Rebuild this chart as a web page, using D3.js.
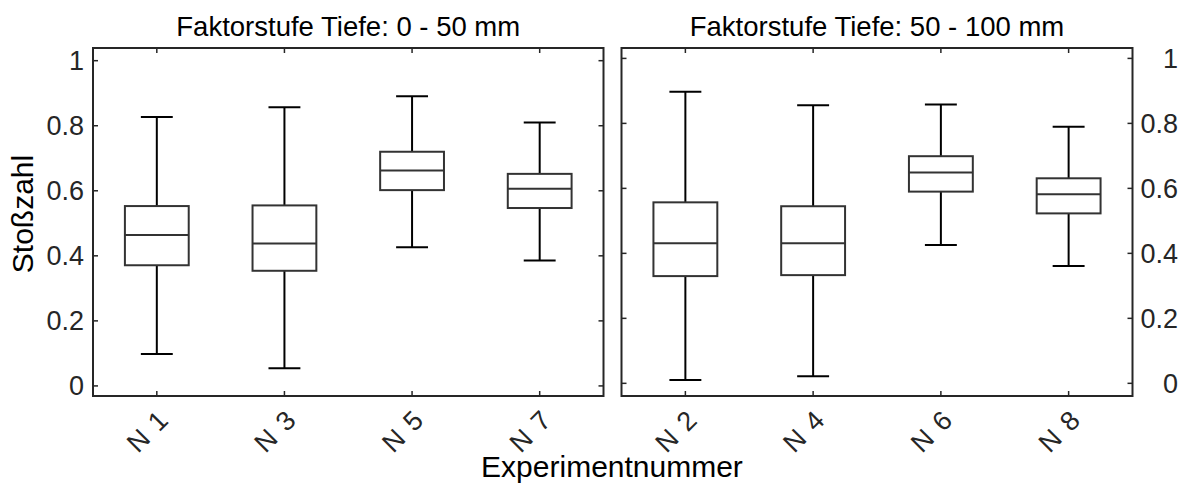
<!DOCTYPE html>
<html>
<head>
<meta charset="utf-8">
<script src="https://cdn.jsdelivr.net/npm/d3@7"></script>
<style>
  body { margin: 0; background: #fff; }
  svg { display: block; }
  text { font-family: "Liberation Sans", Arial, sans-serif; }
</style>
</head>
<body>
<svg id="chart" width="1184" height="483"></svg>
<script>
// boxplot statistics
var experiments = ["N 1", "N 3", "N 5", "N 7", "N 2", "N 4", "N 6", "N 8"]
var depthGroup  = [0, 0, 0, 0, 1, 1, 1, 1]
var whiskerLow  = [0.098, 0.054, 0.426, 0.386, 0.010, 0.022, 0.426, 0.361]
var quart1      = [0.371, 0.354, 0.602, 0.547, 0.330, 0.333, 0.590, 0.523]
var medians     = [0.464, 0.438, 0.662, 0.606, 0.431, 0.431, 0.649, 0.582]
var quart3      = [0.553, 0.555, 0.720, 0.652, 0.557, 0.545, 0.699, 0.631]
var whiskerHigh = [0.827, 0.857, 0.891, 0.810, 0.897, 0.856, 0.858, 0.790]

var panelTitles = ["Faktorstufe Tiefe: 0 - 50 mm", "Faktorstufe Tiefe: 50 - 100 mm"]
var yTicks = [0, 0.2, 0.4, 0.6, 0.8, 1]

var AXIS_COLOR = '#262626',
	BOX_COLOR = '#333333',
	WHISKER_COLOR = '#000000',
	FONT_SIZE = 27

var svg = d3.select('#chart')

var panels = [
	{ x0: 93,    x1: 603.5,  domain: [-0.031, 1.039], labelSide: 'left' },
	{ x0: 621.5, x1: 1132.5, domain: [-0.039, 1.032], labelSide: 'right' }
]
var TOP = 48, BOTTOM = 396, TICK = 5

var rows = experiments.map(function(name, i){
	return { name: name, group: depthGroup[i], low: whiskerLow[i], q1: quart1[i],
		med: medians[i], q3: quart3[i], high: whiskerHigh[i] }
})

panels.forEach(function(p, pi){
	var data = rows.filter(function(d){ return d.group == pi })
	var x = d3.scalePoint().domain(data.map(function(d){ return d.name }))
		.range([p.x0, p.x1]).padding(0.5)
	var y = d3.scaleLinear().domain(p.domain).range([BOTTOM, TOP])
	var step = x.step()

	var g = svg.append('g').attr('class', 'panel')

	// inner tick marks on all four sides
	var ticks = g.append('g').attr('stroke', AXIS_COLOR).attr('stroke-width', 1.5)
	yTicks.forEach(function(t){
		ticks.append('line').attr('x1', p.x0).attr('x2', p.x0 + TICK).attr('y1', y(t)).attr('y2', y(t))
		ticks.append('line').attr('x1', p.x1).attr('x2', p.x1 - TICK).attr('y1', y(t)).attr('y2', y(t))
	})
	data.forEach(function(d){
		ticks.append('line').attr('x1', x(d.name)).attr('x2', x(d.name)).attr('y1', BOTTOM).attr('y2', BOTTOM - TICK)
		ticks.append('line').attr('x1', x(d.name)).attr('x2', x(d.name)).attr('y1', TOP).attr('y2', TOP + TICK)
	})

	// frame
	g.append('rect')
		.attr('x', p.x0).attr('y', TOP)
		.attr('width', p.x1 - p.x0).attr('height', BOTTOM - TOP)
		.attr('fill', 'none').attr('stroke', AXIS_COLOR).attr('stroke-width', 2)

	// y tick labels
	g.selectAll('text.ylab').data(yTicks).enter().append('text')
		.attr('class', 'ylab')
		.attr('x', p.labelSide == 'left' ? 84 : 1178)
		.attr('y', function(t){ return y(t) })
		.attr('dy', '0.35em')
		.attr('text-anchor', 'end')
		.attr('font-size', FONT_SIZE)
		.attr('fill', AXIS_COLOR)
		.text(function(t){ return d3.format('~g')(t) })

	// x tick labels, rotated
	g.selectAll('text.xlab').data(data).enter().append('text')
		.attr('class', 'xlab')
		.attr('transform', function(d){ return 'translate(' + (x(d.name) + 14) + ',' + 421 + ') rotate(-45)' })
		.attr('text-anchor', 'end')
		.attr('font-size', FONT_SIZE)
		.attr('letter-spacing', 1.5)
		.attr('fill', AXIS_COLOR)
		.text(function(d){ return d.name })

	// boxes
	var boxes = g.selectAll('g.box').data(data).enter().append('g').attr('class', 'box')
	boxes.each(function(d){
		var b = d3.select(this), cx = x(d.name)
		b.append('line').attr('x1', cx).attr('x2', cx).attr('y1', y(d.q3)).attr('y2', y(d.high))
			.attr('stroke', WHISKER_COLOR).attr('stroke-width', 2)
		b.append('line').attr('x1', cx).attr('x2', cx).attr('y1', y(d.q1)).attr('y2', y(d.low))
			.attr('stroke', WHISKER_COLOR).attr('stroke-width', 2)
		b.append('line').attr('x1', cx - step / 8).attr('x2', cx + step / 8).attr('y1', y(d.high)).attr('y2', y(d.high))
			.attr('stroke', WHISKER_COLOR).attr('stroke-width', 2)
		b.append('line').attr('x1', cx - step / 8).attr('x2', cx + step / 8).attr('y1', y(d.low)).attr('y2', y(d.low))
			.attr('stroke', WHISKER_COLOR).attr('stroke-width', 2)
		b.append('rect').attr('x', cx - step / 4).attr('width', step / 2)
			.attr('y', y(d.q3)).attr('height', y(d.q1) - y(d.q3))
			.attr('fill', '#fff').attr('stroke', BOX_COLOR).attr('stroke-width', 2)
		b.append('line').attr('x1', cx - step / 4).attr('x2', cx + step / 4).attr('y1', y(d.med)).attr('y2', y(d.med))
			.attr('stroke', BOX_COLOR).attr('stroke-width', 2)
	})

	// title
	g.append('text')
		.attr('x', (p.x0 + p.x1) / 2).attr('y', 36)
		.attr('text-anchor', 'middle')
		.attr('font-size', 27.5)
		.attr('fill', '#000')
		.text(panelTitles[pi])
})

svg.append('text')
	.attr('transform', 'translate(33,214) rotate(-90)')
	.attr('text-anchor', 'middle')
	.attr('font-size', 30)
	.attr('fill', '#000')
	.text('Stoßzahl')

svg.append('text')
	.attr('x', 612).attr('y', 477)
	.attr('text-anchor', 'middle')
	.attr('font-size', 30)
	.attr('fill', '#000')
	.text('Experimentnummer')
</script>
</body>
</html>
